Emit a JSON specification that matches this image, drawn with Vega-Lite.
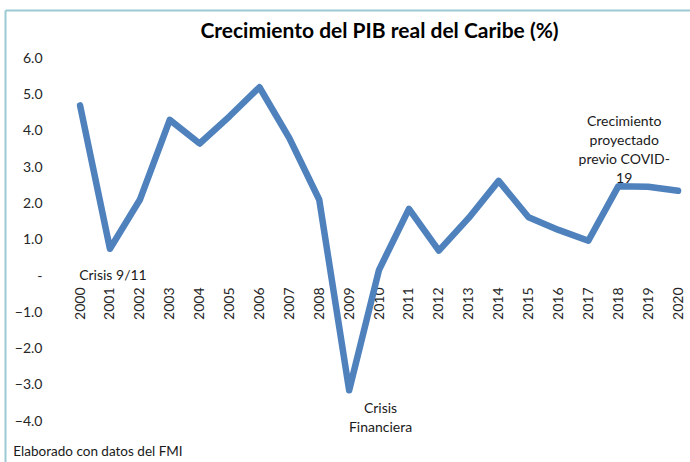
{
  "$schema": "https://vega.github.io/schema/vega-lite/v6.json",
  "autosize": "none",
  "padding": {"left": 5, "top": 10, "right": 0, "bottom": 0},
  "width": 685,
  "height": 452,
  "background": "#ffffff",
  "config": {
    "view": {"stroke": null},
    "font": "Lato",
    "text": {"font": "Lato"}
  },
  "title": {
    "text": "Crecimiento del PIB real del Caribe (%)",
    "font": "Lato",
    "fontSize": 21,
    "fontWeight": "bold",
    "color": "#000000",
    "anchor": "middle",
    "frame": "group",
    "offset": -32,
    "dx": 32
  },
  "resolve": {"axis": {"x": "independent"}},
  "layer": [
    {
      "mark": {"type": "rule", "color": "#d9d9d9", "strokeWidth": 2},
      "encoding": {
        "x": {
          "datum": 1999.45,
          "type": "quantitative",
          "scale": {"domain": [1997.49, 2020.4], "nice": false, "zero": false},
          "axis": {
            "orient": "top",
            "domain": true,
            "domainColor": "#9ccad4",
            "domainWidth": 2,
            "labels": false,
            "ticks": false,
            "grid": false,
            "title": null
          }
        },
        "x2": {"datum": 2020.4},
        "y": {
          "datum": 0,
          "type": "quantitative",
          "scale": {"domain": [-5.124, 7.328], "nice": false, "zero": false}
        }
      }
    },
    {
      "data": {
        "values": [
          {"year": 2000, "value": 4.7},
          {"year": 2001, "value": 0.75},
          {"year": 2002, "value": 2.1},
          {"year": 2003, "value": 4.3},
          {"year": 2004, "value": 3.65},
          {"year": 2005, "value": 4.4},
          {"year": 2006, "value": 5.2},
          {"year": 2007, "value": 3.8},
          {"year": 2008, "value": 2.1},
          {"year": 2009, "value": -3.15},
          {"year": 2010, "value": 0.17},
          {"year": 2011, "value": 1.85},
          {"year": 2012, "value": 0.7},
          {"year": 2013, "value": 1.6},
          {"year": 2014, "value": 2.62},
          {"year": 2015, "value": 1.62},
          {"year": 2016, "value": 1.27},
          {"year": 2017, "value": 0.97},
          {"year": 2018, "value": 2.47},
          {"year": 2019, "value": 2.46},
          {"year": 2020, "value": 2.35}
        ]
      },
      "mark": {"type": "line", "color": "#4f81bd", "strokeWidth": 6.5, "strokeCap": "round", "strokeJoin": "round"},
      "encoding": {
        "x": {
          "field": "year",
          "type": "quantitative",
          "scale": {"domain": [1997.49, 2020.4], "nice": false, "zero": false},
          "axis": {
            "orient": "bottom",
            "offset": -186,
            "values": [2000, 2001, 2002, 2003, 2004, 2005, 2006, 2007, 2008, 2009, 2010, 2011, 2012, 2013, 2014, 2015, 2016, 2017, 2018, 2019, 2020],
            "format": "d",
            "domain": false,
            "ticks": false,
            "tickSize": 0,
            "grid": false,
            "labelAngle": 270,
            "labelAlign": "right",
            "labelBaseline": "middle",
            "labelPadding": 11,
            "labelFont": "Lato",
            "labelFontSize": 14,
            "labelColor": "#262626",
            "labelOverlap": false,
            "labelFlush": false,
            "title": null
          }
        },
        "y": {
          "field": "value",
          "type": "quantitative",
          "scale": {"domain": [-5.124, 7.328], "nice": false, "zero": false},
          "axis": {
            "orient": "left",
            "values": [-4, -3, -2, -1, 0, 1, 2, 3, 4, 5, 6],
            "labelExpr": "datum.value == 0 ? '-\u2007' : format(datum.value, '.1f')",
            "domain": true,
            "domainColor": "#9ccad4",
            "domainWidth": 2,
            "ticks": false,
            "tickSize": 0,
            "grid": false,
            "labelAlign": "right",
            "labelBaseline": "middle",
            "labelPadding": -37,
            "labelFont": "Lato",
            "labelFontSize": 14,
            "labelColor": "#262626",
            "labelOverlap": false,
            "labelFlush": false,
            "title": null
          }
        }
      }
    },
    {
      "data": {
        "values": [
          {"year": 2001.1, "value": 0, "label": "Crisis 9/11"},
          {"year": 2010.05, "value": -3.66, "label": "Crisis\nFinanciera"},
          {"year": 2018.2, "value": 4.25, "label": "Crecimiento\nproyectado\nprevio COVID-\n19"}
        ]
      },
      "mark": {"type": "text", "font": "Lato", "fontSize": 14, "color": "#1a1a1a", "align": "center", "baseline": "middle", "lineBreak": "\n", "lineHeight": 19},
      "encoding": {
        "x": {"field": "year", "type": "quantitative", "axis": null},
        "y": {"field": "value", "type": "quantitative"},
        "text": {"field": "label"}
      }
    },
    {
      "data": {
        "values": [
          {"year": 1997.77, "value": -4.85, "label": "Elaborado con datos del FMI"}
        ]
      },
      "mark": {"type": "text", "font": "Lato", "fontSize": 13.5, "color": "#1a1a1a", "align": "left", "baseline": "middle"},
      "encoding": {
        "x": {"field": "year", "type": "quantitative", "axis": null},
        "y": {"field": "value", "type": "quantitative"},
        "text": {"field": "label"}
      }
    }
  ]
}
